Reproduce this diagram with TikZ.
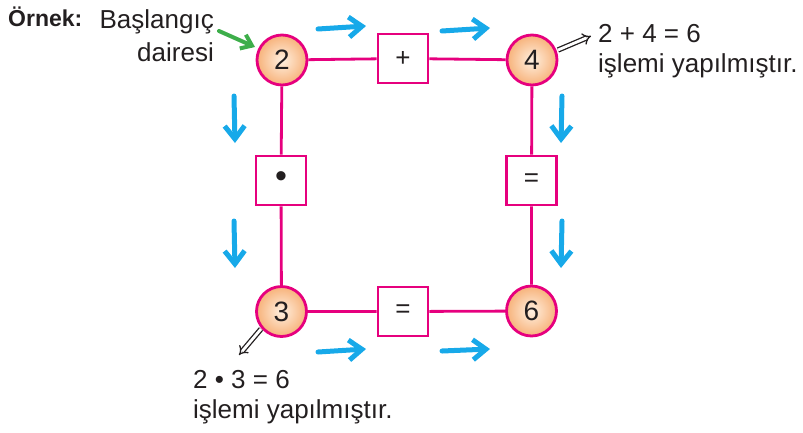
\documentclass[tikz,border=0pt]{standalone}
\usepackage{fontspec}
\setmainfont{Liberation Sans}
\usetikzlibrary{arrows.meta}

\definecolor{ringpink}{HTML}{E6007E}
\definecolor{peachin}{HTML}{FFF0E0}
\definecolor{peachout}{HTML}{F7B27A}
\definecolor{flowblue}{HTML}{17A9E9}
\definecolor{pointgreen}{HTML}{3DAE4A}
\definecolor{inktext}{HTML}{231F20}

\tikzset{
  numdisc/.style={circle, draw=ringpink, line width=2.8pt, minimum size=50pt,
    inner sep=0pt, inner color=peachin, outer color=peachout,
    text=inktext, font=\fontsize{28}{28}\selectfont},
  opbox/.style={rectangle, draw=ringpink, line width=2.8pt, fill=white,
    minimum width=50pt, minimum height=49pt, inner sep=0pt,
    text=inktext, font=\fontsize{26}{26}\selectfont},
  link/.style={draw=ringpink, line width=2.8pt},
  flow/.style={draw=flowblue, line width=5pt, line cap=round, line join=round,
    -{Straight Barb[length=13pt,width=20pt,line width=5pt]}},
  pointer/.style={draw=pointgreen, line width=4pt, line cap=round, line join=round,
    -{Straight Barb[length=10pt,width=15pt,line width=4pt]}},
  implies/.style={double=white, double distance=2.8pt, line width=1.3pt, draw=inktext,
    -{Implies[length=7pt]}},
  note/.style={inner sep=0pt, text=inktext, font=\fontsize{26}{26}\selectfont},
}

\begin{document}
\begin{tikzpicture}[x=1pt, y=-1pt]
  \useasboundingbox (0,0) rectangle (803,432);

  % start, corner and result discs
  \node[numdisc] (d2) at (282,60)  {2};
  \node[numdisc] (d4) at (532,60)  {4};
  \node[numdisc] (d3) at (281.5,311.5) {3};
  \node[numdisc] (d6) at (531.5,311) {6};

  % operation boxes
  \node[opbox] (plus)  at (403,58.5)   {+};
  \node[opbox] (times) at (281,180.5)  {\raisebox{1pt}{\fontsize{34}{34}\selectfont\textbullet}};
  \node[opbox] (eqr)   at (531.5,180.5) {=};
  \node[opbox] (eqb)   at (403,311.5)  {=};

  % pink links
  \draw[link] (d2) -- (plus) -- (d4);
  \draw[link] (d2) -- (times) -- (d3);
  \draw[link] (d4) -- (eqr) -- (d6);
  \draw[link] (d3) -- (eqb) -- (d6);

  % blue direction arrows
  \coordinate (ta1) at (318,29);  \coordinate (tb1) at (366,26);
  \coordinate (ta2) at (442,31);  \coordinate (tb2) at (490,28);
  \coordinate (ba1) at (318,352); \coordinate (bb1) at (366,349);
  \coordinate (ba2) at (442,351); \coordinate (bb2) at (490,349);
  \coordinate (la1) at (234,96);  \coordinate (lb1) at (235,143);
  \coordinate (la2) at (234,221); \coordinate (lb2) at (235,268);
  \coordinate (ra1) at (562,96);  \coordinate (rb1) at (561,143);
  \coordinate (ra2) at (562,221); \coordinate (rb2) at (561,268);
  \draw[flow] (ta1) -- (tb1);
  \draw[flow] (ta2) -- (tb2);
  \draw[flow] (ba1) -- (bb1);
  \draw[flow] (ba2) -- (bb2);
  \draw[flow] (la1) -- (lb1);
  \draw[flow] (la2) -- (lb2);
  \draw[flow] (ra1) -- (rb1);
  \draw[flow] (ra2) -- (rb2);

  % labels
  \node[note, anchor=base west, font=\bfseries\fontsize{23}{23}\selectfont] (ornek) at (8,26) {Örnek:};
  \node[note, anchor=base east] (bas1) at (214,28) {Başlangıç};
  \node[note, anchor=base east] (bas2) at (214,61) {dairesi};
  \node[note, anchor=base west] (sum1) at (598,42) {2 + 4 = 6};
  \node[note, anchor=base west] (sum2) at (598,72) {işlemi yapılmıştır.};
  \node[note, anchor=base west] (prd1) at (193,388) {2 \textbullet\ 3 = 6};
  \node[note, anchor=base west] (prd2) at (193,418) {işlemi yapılmıştır.};

  % pointers to the discs and their results
  \coordinate (gstart) at (219,31);
  \coordinate (gend) at (255,47);
  \draw[pointer] (gstart) -- (gend);
  \coordinate (i4a) at (558,50);
  \coordinate (i4b) at (591,36);
  \draw[implies] (i4a) -- (i4b);
  \coordinate (i3a) at (261,329);
  \coordinate (i3b) at (239,355);
  \draw[implies] (i3a) -- (i3b);
\end{tikzpicture}
\end{document}
